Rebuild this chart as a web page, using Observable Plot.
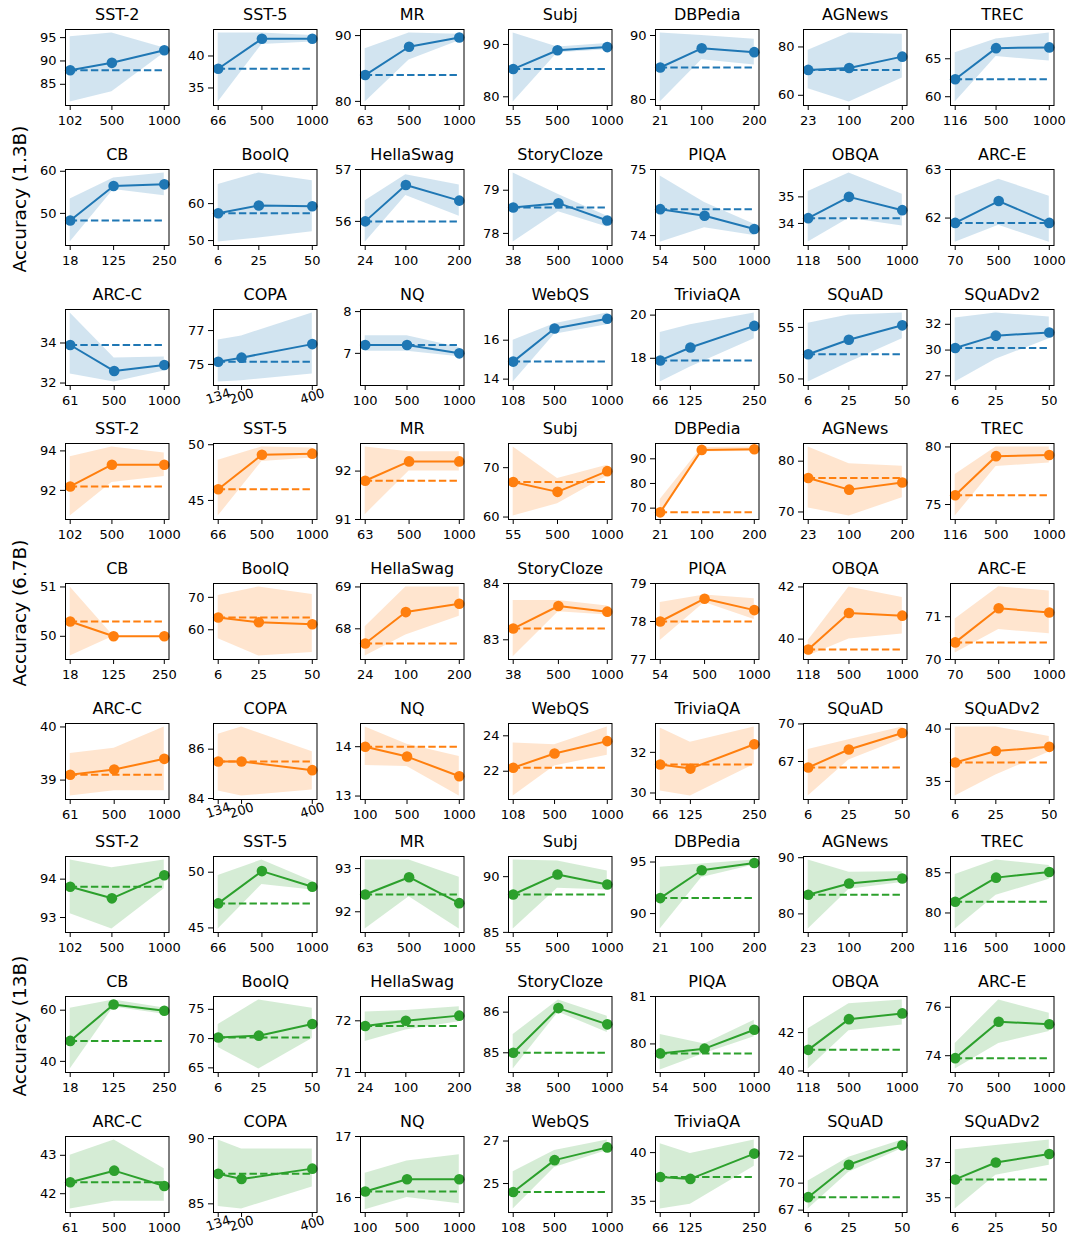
<!DOCTYPE html>
<html><head><meta charset="utf-8">
<script src="https://cdn.jsdelivr.net/npm/d3@7"></script>
<script src="https://cdn.jsdelivr.net/npm/@observablehq/plot@0.6"></script>
<style>
body{margin:0;background:#fff;}
#fig{position:relative;width:1070px;height:1243px;background:#fff;font-family:"DejaVu Sans",sans-serif;overflow:hidden;}
.cell{position:absolute;}
.ylab{position:absolute;font-size:18.5px;white-space:nowrap;transform:translate(-50%,-50%) rotate(-90deg);color:#000;}
</style></head><body><div id="fig"></div><script>
const models = ["1.3B", "6.7B", "13B"];
const modelColors = ["#1f77b4", "#ff7f0e", "#2ca02c"];
const tasks = ["SST-2","SST-5","MR","Subj","DBPedia","AGNews","TREC","CB","BoolQ","HellaSwag","StoryCloze","PIQA","OBQA","ARC-E","ARC-C","COPA","NQ","WebQS","TriviaQA","SQuAD","SQuADv2"];
const shots = [[102,500,1000],[66,500,1000],[63,500,1000],[55,500,1000],[21,100,200],[23,100,200],[116,500,1000],
  [18,125,250],[6,25,50],[24,100,200],[38,500,1000],[54,500,1000],[118,500,1000],[70,500,1000],
  [61,500,1000],[134,200,400],[100,500,1000],[108,500,1000],[66,125,250],[6,25,50],[6,25,50]];

// ---- 1.3B ----
const acc1p3B = [[88.0,89.6,92.3],[38.0,42.7,42.7],[84.0,88.3,89.7],[85.3,88.9,89.5],[85.0,88.0,87.4],[70.5,71.3,76.0],[62.3,66.4,66.5],
  [48.3,56.5,56.9],[57.4,59.5,59.3],[56.0,56.7,56.4],[78.6,78.7,78.3],[74.4,74.3,74.1],[34.2,35.0,34.5],[61.9,62.35,61.9],
  [33.9,32.6,32.9],[75.2,75.5,76.5],[7.2,7.2,7.0],[14.9,16.6,17.1],[17.9,18.5,19.5],[52.4,53.8,55.2],[30.2,31.4,31.7]];
const lo1p3B = [[81.2,83.4,91.7],[32.8,41.8,42.2],[79.9,86.3,89.2],[79.0,88.4,89.0],[79.6,86.2,85.4],[62.7,57.2,67.2],[59.3,65.3,64.7],
  [43.2,55.7,54.2],[49.6,50.7,52.4],[55.6,56.5,56.1],[77.8,78.5,78.15],[73.9,74.12,74.0],[33.3,34.2,33.9],[61.5,61.85,61.5],
  [32.45,32.05,32.6],[73.7,73.8,74.3],[7.05,7.05,6.92],[13.85,16.3,16.8],[16.9,17.6,18.9],[49.7,51.6,53.9],[26.9,29.1,31.1]];
const hi1p3B = [[95.2,96.0,92.8],[43.6,43.6,43.2],[88.0,90.4,90.2],[92.2,89.5,90.2],[90.4,90.0,89.4],[78.6,85.8,85.3],[65.8,67.6,68.4],
  [53.4,58.4,59.6],[65.2,68.3,66.2],[56.4,56.9,56.7],[79.4,78.9,78.4],[74.9,74.5,74.17],[35.2,35.9,35.1],[62.45,62.8,62.45],
  [35.5,33.25,33.3],[76.8,77.1,78.8],[7.42,7.42,7.14],[16.0,16.85,17.4],[19.2,19.55,20.1],[55.4,56.2,56.4],[33.1,33.6,33.2]];
const ticks1p3B = [[85,90,95],[35,40],[80,90],[80,90],[80,90],[60,80],[60,65],
  [50,60],[50,60],[56,57],[78,79],[74,75],[34,35],[62,63],
  [32,34],[75,77.5],[7,8],[14,16],[18,20],[50,55],[27.5,30,32.5]];

// ---- 6.7B ----
const acc6p7B = [[92.2,93.3,93.3],[46.0,49.1,49.2],[91.8,92.2,92.2],[67.1,65.1,69.3],[68.3,93.6,93.9],[76.7,74.4,75.8],[75.8,79.2,79.3],
  [50.3,50.0,50.0],[63.8,62.3,61.7],[67.65,68.4,68.6],[83.2,83.6,83.5],[78.0,78.6,78.3],[39.6,41.0,40.9],[70.4,71.2,71.1],
  [39.1,39.2,39.4],[85.5,85.5,85.15],[14.0,13.8,13.4],[22.2,23.0,23.7],[31.4,31.2,32.4],[67.1,68.3,69.4],[36.8,37.9,38.3]];
const lo6p7B = [[90.7,92.4,92.7],[43.6,48.5,48.8],[91.1,92.0,92.0],[60.2,62.7,68.3],[66.8,92.9,93.0],[70.8,69.2,72.8],[74.0,78.3,78.6],
  [49.6,50.0,50.0],[57.2,51.9,53.0],[67.35,67.85,68.3],[82.7,83.5,83.44],[77.5,78.5,78.05],[39.35,40.0,40.2],[70.15,70.7,70.6],
  [38.7,38.8,38.8],[84.3,84.1,84.35],[13.62,13.6,13.0],[20.6,22.3,22.9],[30.1,29.85,31.4],[65.2,67.6,69.0],[33.6,35.6,37.8]];
const hi6p7B = [[93.7,94.2,93.9],[48.6,49.8,49.7],[92.5,92.4,92.4],[74.2,67.8,70.5],[73.5,94.6,94.8],[82.8,79.5,79.0],[77.6,80.0,80.0],
  [51.0,50.0,50.0],[70.6,73.2,70.9],[68.05,69.0,69.0],[83.7,83.7,83.6],[78.5,78.7,78.6],[39.95,42.0,41.6],[70.95,71.7,71.6],
  [39.5,39.6,40.0],[86.6,86.9,85.9],[14.4,14.05,13.8],[23.6,23.5,24.5],[33.2,32.5,33.25],[68.3,68.95,69.8],[40.2,40.2,39.3]];
const ticks6p7B = [[92,94],[45,50],[91,92],[60,70],[70,80,90],[70,80],[75,80],
  [50,51],[60,70],[68,69],[83,84],[77,78,79],[40,42],[70,71],
  [39,40],[84,86],[13,14],[22,24],[30,32],[67.5,70],[35,40]];

// ---- 13B ----
const acc13B = [[93.8,93.5,94.1],[47.2,50.1,48.7],[92.4,92.8,92.2],[88.4,90.2,89.3],[91.5,94.2,94.9],[83.4,85.4,86.3],[81.4,84.4,85.1],
  [48.0,62.2,59.8],[70.2,70.5,72.5],[71.9,72.0,72.1],[85.0,86.1,85.7],[79.8,79.9,80.3],[41.1,42.7,43.0],[73.9,75.4,75.3],
  [42.3,42.6,42.2],[87.3,86.9,87.7],[16.1,16.3,16.3],[24.6,26.1,26.7],[37.5,37.3,39.9],[68.7,71.7,73.5],[36.3,37.5,38.1]];
const lo13B = [[93.1,92.7,93.75],[44.9,48.9,48.4],[91.6,92.35,91.6],[85.3,88.95,88.8],[88.5,93.5,94.7],[77.3,84.4,85.6],[78.0,82.2,84.2],
  [37.0,61.2,58.4],[68.5,64.8,70.0],[71.6,71.82,71.98],[84.6,86.0,85.5],[79.45,79.8,80.15],[40.1,42.1,42.4],[73.45,74.5,75.0],
  [41.6,41.8,41.8],[84.8,84.6,86.3],[15.8,16.0,15.9],[23.8,25.75,26.55],[34.2,34.7,38.6],[67.6,71.0,73.2],[34.2,36.6,37.3]];
const hi13B = [[94.5,94.3,94.5],[49.7,51.1,49.2],[93.2,93.2,92.8],[91.5,91.4,90.5],[94.5,94.8,95.2],[89.6,87.4,87.5],[84.8,86.6,85.9],
  [60.8,64.0,60.9],[72.4,76.6,75.2],[72.17,72.2,72.27],[85.45,86.3,85.9],[80.2,80.0,80.5],[42.2,43.5,43.7],[74.5,76.3,75.75],
  [43.0,43.4,42.65],[89.9,89.2,89.2],[16.4,16.6,16.7],[25.55,26.55,27.05],[40.9,39.9,41.3],[70.2,72.4,74.0],[38.4,38.7,39.1]];
const ticks13B = [[93,94],[45,50],[92,93],[85,90],[90,95],[80,90],[80,85],
  [40,60],[65,70,75],[71,72],[85,86],[80,81],[40,42],[74,76],
  [42,43],[85,90],[16,17],[25,27],[35,40],[67.5,70,72.5],[35,37.5]];

// axis limits that are wider than the data in the reference
const yLimitOverrides = {"1.3B|NQ": [6.23, 8.05], "13B|HellaSwag": [71.0, 72.47]};

const accs = [acc1p3B, acc6p7B, acc13B];
const los = [lo1p3B, lo6p7B, lo13B];
const his = [hi1p3B, hi6p7B, hi13B];
const tickSets = [ticks1p3B, ticks6p7B, ticks13B];

const fig = document.getElementById("fig");
const W = 103.5, H = 76, ML = 44, MR = 8, MT = 30, MB = 40;
const rowTops = [29, 169, 309];
const groupOffset = 413.7;

for (let g = 0; g < 3; g++) {
  const color = modelColors[g];
  for (let t = 0; t < tasks.length; t++) {
    const xs = shots[t];
    const m = accs[g][t], lo = los[g][t], hi = his[g][t], tk = tickSets[g][t];
    const data = xs.map((x, i) => ({x, y: m[i], lo: lo[i], hi: hi[i]}));
    const xpad = (xs[2] - xs[0]) * 0.05;
    const all = [...m, ...lo, ...hi];
    let ymin = Math.min(...all), ymax = Math.max(...all);
    const ypad = (ymax - ymin) * 0.05;
    ymin = Math.min(ymin - ypad, ...tk);
    ymax = Math.max(ymax + ypad, ...tk);
    const ov = yLimitOverrides[models[g] + "|" + tasks[t]];
    if (ov) { ymin = ov[0]; ymax = ov[1]; }
    const isCOPA = tasks[t] === "COPA";
    const svg = Plot.plot({
      width: W + ML + MR, height: H + MT + MB,
      marginLeft: ML, marginRight: MR, marginTop: MT, marginBottom: MB,
      x: {type: "linear", domain: [xs[0] - xpad, xs[2] + xpad]},
      y: {type: "linear", domain: [ymin, ymax]},
      style: {fontFamily: "DejaVu Sans", fontSize: "13px", color: "#000", background: "transparent", overflow: "visible"},
      marks: [
        Plot.areaY(data, {x: "x", y1: "lo", y2: "hi", fill: color, fillOpacity: 0.2}),
        Plot.ruleY([m[0]], {y: d => d, x1: () => xs[0], x2: () => xs[2], stroke: color, strokeWidth: 2, strokeDasharray: "7.4,3.2"}),
        Plot.line(data, {x: "x", y: "y", stroke: color, strokeWidth: 2}),
        Plot.dot(data, {x: "x", y: "y", fill: color, r: 5.3}),
        Plot.frame({stroke: "#000", strokeWidth: 1}),
        Plot.axisX({ticks: xs, tickFormat: d => String(d), tickSize: 5, tickPadding: 5, label: null,
          ...(isCOPA ? {tickRotate: -18, textAnchor: "middle", tickPadding: 6} : {})}),
        Plot.axisY({ticks: tk, tickFormat: d => String(Math.trunc(d)), tickSize: 5, tickPadding: 4, label: null}),
        Plot.text([tasks[t]], {frameAnchor: "top", dy: -10, lineAnchor: "bottom", fontSize: 16, fill: "#000"})
      ]
    });
    const row = Math.floor(t / 7), col = t % 7;
    const left = 65.3 + 147.5 * col;
    const top = rowTops[row] + g * groupOffset;
    const wrap = document.createElement("div");
    wrap.className = "cell";
    wrap.style.left = (left - ML) + "px";
    wrap.style.top = (top - MT) + "px";
    wrap.appendChild(svg);
    fig.appendChild(wrap);
  }
  const lab = document.createElement("div");
  lab.className = "ylab";
  lab.textContent = "Accuracy (" + models[g] + ")";
  lab.style.left = "19px";
  lab.style.top = (199 + g * groupOffset) + "px";
  fig.appendChild(lab);
}
</script></body></html>
